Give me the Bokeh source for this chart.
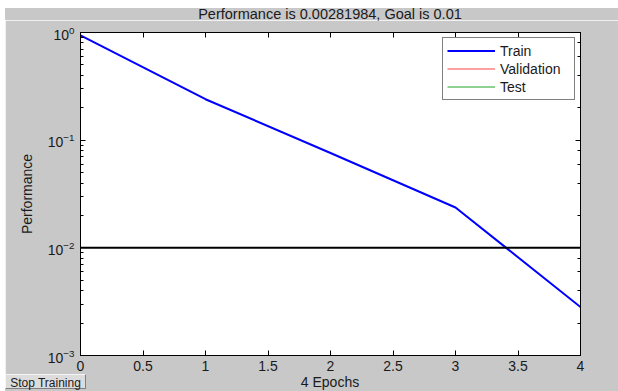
from bokeh.plotting import figure
from bokeh.models import (LogAxis, LinearAxis, Legend, LegendItem, FixedTicker,
                          Range1d, CustomJSTickFormatter, Spacer, Div)
from bokeh.layouts import column, row
from bokeh.embed import file_html
from bokeh.resources import INLINE

# data
epochs = [0, 1, 2, 3, 4]
train_perf = [0.94, 0.24, 0.076, 0.0237, 0.00281984]
val_epochs = [0]
val_perf = [float("nan")]
test_epochs = [0]
test_perf = [float("nan")]
goal = 0.01
x_ticks = [0, 0.5, 1, 1.5, 2, 2.5, 3, 3.5, 4]
x_tick_labels = ["0", "0.5", "1", "1.5", "2", "2.5", "3", "3.5", "4"]
title_text = "Performance is 0.00281984, Goal is 0.01"
button_text = "Stop Training"
x_label = f"{len(epochs) - 1} Epochs"

FONT = "Liberation Sans"
BG = "#c8c8c8"
TXT = "#1a1a1a"
W = 613

title_div = Div(width=W, height=12, margin=0,
                styles={"background-color": BG, "overflow": "visible"},
                text=(f'<div style="position:relative;width:{W}px;height:12px;overflow:visible;'
                      f'font-family:\'{FONT}\';font-size:14.5px;color:{TXT};">'
                      f'<span style="position:absolute;left:0;width:650px;top:-1px;'
                      f'text-align:center;line-height:14px;">{title_text}</span></div>'))

p = figure(width=W, height=354, output_backend="svg", toolbar_location=None,
           y_axis_type="log", x_range=Range1d(0, 4), y_range=Range1d(1e-3, 1),
           min_border_left=75, min_border_right=38, min_border_top=12, min_border_bottom=19,
           background_fill_color="white", border_fill_color=BG)
p.outline_line_color = "black"
p.outline_line_width = 1
p.grid.visible = False

def style_axis(ax, labels=True):
    ax.axis_line_color = "black"
    ax.major_tick_in = 5
    ax.major_tick_out = 0
    ax.minor_tick_in = 3
    ax.minor_tick_out = 0
    ax.major_tick_line_color = "black"
    ax.minor_tick_line_color = "black"
    ax.major_label_text_font = FONT
    ax.major_label_text_font_size = "14px"
    ax.major_label_text_color = TXT
    ax.axis_label_text_font = FONT
    ax.axis_label_text_font_size = "14px"
    ax.axis_label_text_font_style = "normal"
    ax.axis_label_text_color = TXT
    if not labels:
        ax.formatter = CustomJSTickFormatter(code="return '';")
        ax.major_label_standoff = 0

xb = p.xaxis[0]
style_axis(xb)
xb.ticker = FixedTicker(ticks=x_ticks, minor_ticks=[])
xb.major_label_overrides = {t: l for t, l in zip(x_ticks, x_tick_labels)}
xb.major_label_standoff = 5

yl = p.yaxis[0]
style_axis(yl)
yl.axis_label = "Performance"
yl.axis_label_standoff = 10
yl.major_label_standoff = 6

xt = LinearAxis(ticker=FixedTicker(ticks=x_ticks, minor_ticks=[]))
style_axis(xt, labels=False)
p.add_layout(xt, "above")
yr = LogAxis()
style_axis(yr, labels=False)
p.add_layout(yr, "right")

r_train = p.line(epochs, train_perf, line_color="blue", line_width=2)
r_val = p.line(val_epochs, val_perf, line_color="#ff4040", line_width=1)
r_test = p.line(test_epochs, test_perf, line_color="#20a020", line_width=1)
p.line([x_ticks[0], x_ticks[-1]], [goal, goal], line_color="black", line_width=2)

legend = Legend(items=[LegendItem(label="Train", renderers=[r_train]),
                       LegendItem(label="Validation", renderers=[r_val]),
                       LegendItem(label="Test", renderers=[r_test])],
                location="top_right",
                label_text_font=FONT, label_text_font_size="14px",
                label_text_color=TXT,
                border_line_color="black", border_line_width=1,
                background_fill_alpha=1, background_fill_color="white",
                glyph_width=48, glyph_height=17, label_height=17, label_width=70,
                spacing=1, padding=4, margin=5, label_standoff=5)
p.add_layout(legend)

bottom_div = Div(width=W, height=17, margin=0,
                 styles={"background-color": BG},
                 text=(f'<div style="position:relative;width:{W}px;height:17px;'
                       f'font-family:\'{FONT}\';color:{TXT};">'
                       f'<span style="position:absolute;left:0;top:0;width:81px;height:15px;'
                       f'background:#dcdcdc;border-top:1px solid #f4f4f4;border-left:1px solid #f4f4f4;'
                       f'border-right:1px solid #808080;border-bottom:1px solid #808080;'
                       f'font-size:12px;line-height:16px;text-align:center;">{button_text}</span>'
                       f'<span style="position:absolute;left:225px;width:200px;top:0px;'
                       f'text-align:center;font-size:14px;line-height:17px;">{x_label}</span></div>'))

layout = column(Spacer(height=8),
                row(Spacer(width=5), title_div),
                row(Spacer(width=5), p),
                row(Spacer(width=5), bottom_div))
open("out.html", "w").write(file_html(layout, INLINE))
